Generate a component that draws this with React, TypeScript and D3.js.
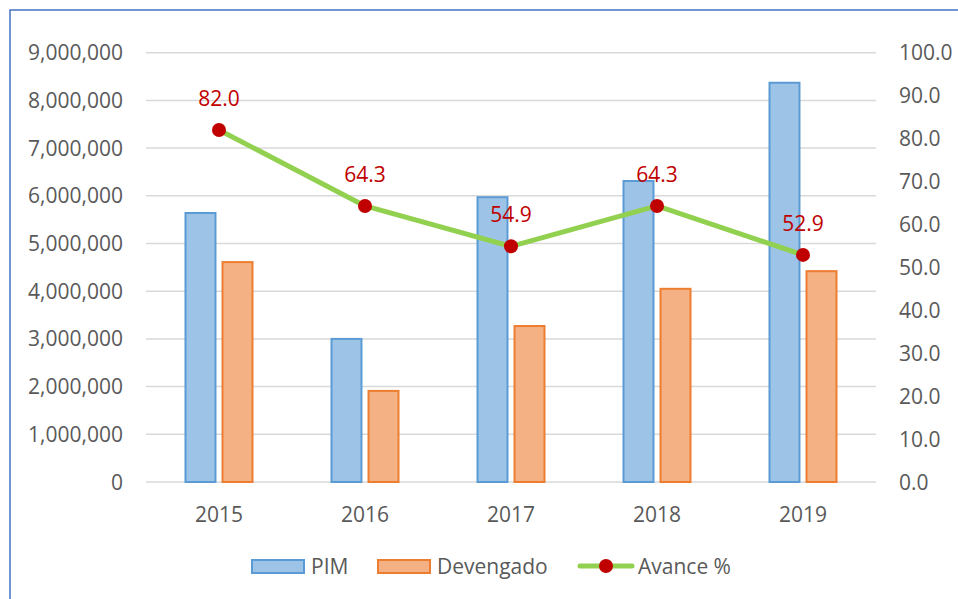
import React, { useEffect, useRef } from 'react';
import * as d3 from 'd3';

const years = ['2015', '2016', '2017', '2018', '2019'];
const pim = [5640000, 3000000, 5970000, 6310000, 8370000];
const devengado = [4610000, 1910000, 3270000, 4050000, 4420000];
const avance = [82.0, 64.3, 54.9, 64.3, 52.9];
const leftTicks = [0, 1000000, 2000000, 3000000, 4000000, 5000000, 6000000, 7000000, 8000000, 9000000];
const rightTicks = [0, 10, 20, 30, 40, 50, 60, 70, 80, 90, 100];

const W = 958, H = 599;
const FONT = '"Open Sans", sans-serif';
const FS = 21;

export default function App() {
  const ref = useRef<SVGSVGElement>(null);

  useEffect(() => {
    document.body.style.margin = '0';
    const svg = d3.select(ref.current);
    svg.selectAll('*').remove();

    const left = 146, right = 876, top = 52.7, bottom = 482;

    const x = d3.scaleBand().domain(years).range([left, right]).padding(0);
    const bw = x.bandwidth();
    const x1 = d3.scaleBand()
      .domain(['pim', 'dev'])
      .range([bw / 2 - 33.5, bw / 2 + 33.5])
      .paddingInner(0.19);
    const y = d3.scaleLinear().domain([0, 9000000]).range([bottom, top]);
    const y2 = d3.scaleLinear().domain([0, 100]).range([bottom, top]);

    // frame
    svg.append('rect')
      .attr('x', 10).attr('y', 10).attr('width', 1200).attr('height', 1200)
      .attr('fill', 'none').attr('stroke', '#4472C4').attr('stroke-width', 1.5);

    // gridlines
    svg.append('g').selectAll('line').data(leftTicks).join('line')
      .attr('x1', left).attr('x2', right)
      .attr('y1', d => y(d)).attr('y2', d => y(d))
      .attr('stroke', '#D9D9D9').attr('stroke-width', 1.5);

    // left axis labels
    const fmt = d3.format(',');
    svg.append('g').selectAll('text').data(leftTicks).join('text')
      .attr('x', 123).attr('y', d => y(d)).attr('dy', '0.36em')
      .attr('text-anchor', 'end')
      .attr('font-family', FONT).attr('font-size', FS).attr('fill', '#595959')
      .text(d => fmt(d));

    // right axis labels
    svg.append('g').selectAll('text').data(rightTicks).join('text')
      .attr('x', 899).attr('y', d => y2(d)).attr('dy', '0.36em')
      .attr('text-anchor', 'start')
      .attr('font-family', FONT).attr('font-size', FS).attr('fill', '#595959')
      .text(d => d.toFixed(1));

    // bars
    const bars = svg.append('g');
    bars.selectAll('rect.pim').data(years).join('rect')
      .attr('class', 'pim')
      .attr('x', (d) => (x(d) as number) + (x1('pim') as number))
      .attr('width', x1.bandwidth())
      .attr('y', (d, i) => y(pim[i]))
      .attr('height', (d, i) => bottom - y(pim[i]))
      .attr('fill', '#9DC3E6').attr('stroke', '#5B9BD5').attr('stroke-width', 2);
    bars.selectAll('rect.dev').data(years).join('rect')
      .attr('class', 'dev')
      .attr('x', (d) => (x(d) as number) + (x1('dev') as number))
      .attr('width', x1.bandwidth())
      .attr('y', (d, i) => y(devengado[i]))
      .attr('height', (d, i) => bottom - y(devengado[i]))
      .attr('fill', '#F4B183').attr('stroke', '#ED7D31').attr('stroke-width', 2);

    // x labels
    svg.append('g').selectAll('text').data(years).join('text')
      .attr('x', d => (x(d) as number) + bw / 2).attr('y', 522)
      .attr('text-anchor', 'middle')
      .attr('font-family', FONT).attr('font-size', FS).attr('fill', '#595959')
      .text(d => d);

    // line
    const line = d3.line<number>()
      .x((d, i) => (x(years[i]) as number) + bw / 2)
      .y(d => y2(d));
    svg.append('path').datum(avance)
      .attr('fill', 'none').attr('stroke', '#92D050').attr('stroke-width', 5)
      .attr('stroke-linejoin', 'round')
      .attr('d', line);

    svg.append('g').selectAll('circle').data(avance).join('circle')
      .attr('cx', (d, i) => (x(years[i]) as number) + bw / 2)
      .attr('cy', d => y2(d)).attr('r', 7)
      .attr('fill', '#C00000');

    svg.append('g').selectAll('text').data(avance).join('text')
      .attr('x', (d, i) => (x(years[i]) as number) + bw / 2)
      .attr('y', d => y2(d) - 24)
      .attr('text-anchor', 'middle')
      .attr('font-family', FONT).attr('font-size', FS).attr('fill', '#C00000')
      .text(d => d.toFixed(1));

    // legend
    const lg = svg.append('g').attr('font-family', FONT).attr('font-size', FS).attr('fill', '#595959');
    lg.append('rect').attr('x', 252).attr('y', 560).attr('width', 52).attr('height', 13)
      .attr('fill', '#9DC3E6').attr('stroke', '#5B9BD5').attr('stroke-width', 2);
    lg.append('text').attr('x', 311).attr('y', 566).attr('dy', '0.36em').text('PIM');
    lg.append('rect').attr('x', 378).attr('y', 560).attr('width', 52).attr('height', 13)
      .attr('fill', '#F4B183').attr('stroke', '#ED7D31').attr('stroke-width', 2);
    lg.append('text').attr('x', 437).attr('y', 566).attr('dy', '0.36em').text('Devengado');
    lg.append('line').attr('x1', 580).attr('x2', 632).attr('y1', 566).attr('y2', 566)
      .attr('stroke', '#92D050').attr('stroke-width', 5).attr('stroke-linecap', 'round');
    lg.append('circle').attr('cx', 606).attr('cy', 566).attr('r', 7).attr('fill', '#C00000');
    lg.append('text').attr('x', 638).attr('y', 566).attr('dy', '0.36em').text('Avance %');
  }, []);

  return (
    <svg ref={ref} width={W} height={H}
      style={{ position: 'absolute', left: 0, top: 0, background: '#fff', display: 'block' }} />
  );
}
